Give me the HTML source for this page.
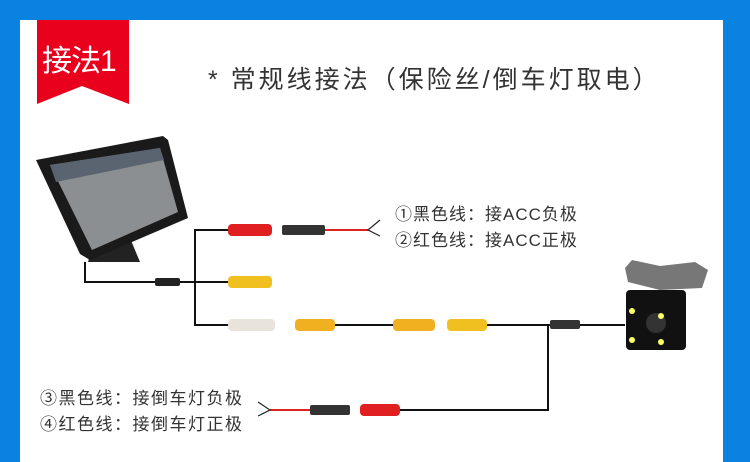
<!DOCTYPE html>
<html><head><meta charset="utf-8"><style>
body{margin:0;width:750px;height:462px;overflow:hidden;background:#fff;font-family:"Liberation Sans","Noto Sans CJK SC",sans-serif}
svg{position:absolute;left:0;top:0}
.t{position:absolute;white-space:nowrap;color:#222}
</style></head><body>
<svg width="750" height="462" viewBox="0 0 750 462">
<rect x="0" y="0" width="750" height="20" fill="#0a82e0"/>
<rect x="0" y="0" width="20" height="462" fill="#0a82e0"/>
<rect x="723" y="0" width="27" height="462" fill="#0a82e0"/>
<polygon points="37,20 129,20 129,104 82,86 37,104" fill="#e8001c"/>
<!-- monitor -->
<polygon points="95,238 130,238 140,262 88,262" fill="#222"/>
<polygon points="36,160 163,136 168,140 188,218 90,260 80,254" fill="#1a1a1a"/>
<polygon points="50,165 160,148 178,212 92,250" fill="#8c8f92"/>
<polygon points="50,165 160,148 164,160 56,182" fill="#5a6470"/>
<!-- wires -->
<g stroke="#111" stroke-width="2" fill="none">
<polyline points="85,262 85,282 195,282"/>
<polyline points="228,230 195,230 195,325 228,325"/>
<line x1="195" y1="282" x2="228" y2="282"/>
<line x1="335" y1="325" x2="393" y2="325"/>
<line x1="487" y1="325" x2="625" y2="325"/>
<polyline points="548,325 548,410 400,410"/>
</g>
<line x1="325" y1="230" x2="368" y2="230" stroke="#d22" stroke-width="2"/>
<polyline points="380,220 368,230 380,236" stroke="#222" stroke-width="1.2" fill="none"/>
<line x1="310" y1="410" x2="270" y2="410" stroke="#d22" stroke-width="2"/>
<polyline points="258,402 270,410 258,416" stroke="#222" stroke-width="1.2" fill="none"/>
<!-- connectors -->
<rect x="155" y="278" width="25" height="8" rx="2" fill="#222"/>
<rect x="228" y="224" width="44" height="12" rx="4" fill="#e02020"/>
<rect x="282" y="225" width="43" height="10" rx="2" fill="#333"/>
<rect x="228" y="276" width="44" height="12" rx="4" fill="#f0c020"/>
<rect x="228" y="319" width="47" height="12" rx="4" fill="#e8e4dc"/>
<rect x="295" y="319" width="40" height="12" rx="4" fill="#f0b020"/>
<rect x="393" y="319" width="42" height="12" rx="4" fill="#f0b020"/>
<rect x="447" y="319" width="40" height="12" rx="4" fill="#f0c020"/>
<rect x="550" y="320" width="30" height="9" rx="2" fill="#333"/>
<rect x="310" y="405" width="40" height="10" rx="2" fill="#333"/>
<rect x="360" y="404" width="40" height="12" rx="4" fill="#e02020"/>
<!-- camera -->
<polygon points="625,268 632,260 660,266 695,262 708,270 702,288 660,290 628,282" fill="#777"/>
<rect x="626" y="290" width="60" height="60" rx="4" fill="#111"/>
<circle cx="656" cy="323" r="10" fill="#333"/>
<circle cx="632" cy="311" r="3" fill="#ff6"/><circle cx="661" cy="316" r="3" fill="#ff6"/>
<circle cx="632" cy="340" r="3" fill="#ff6"/><circle cx="661" cy="342" r="3" fill="#ff6"/>
</svg>
<div class="t" style="left:42px;top:36px;font-size:30px;color:#fff;letter-spacing:-1px">接法1</div>
<div class="t" style="left:208px;top:60px;font-size:25px;letter-spacing:3px;color:#333">* 常规线接法（保险丝/倒车灯取电）</div>
<div class="t" style="left:395px;top:200px;font-size:17px;letter-spacing:1px;color:#333">①黑色线：接ACC负极</div>
<div class="t" style="left:395px;top:226px;font-size:17px;letter-spacing:1px;color:#333">②红色线：接ACC正极</div>
<div class="t" style="left:40px;top:384px;font-size:17px;letter-spacing:1.5px;color:#333">③黑色线：接倒车灯负极</div>
<div class="t" style="left:40px;top:410px;font-size:17px;letter-spacing:1.5px;color:#333">④红色线：接倒车灯正极</div>
</body></html>
